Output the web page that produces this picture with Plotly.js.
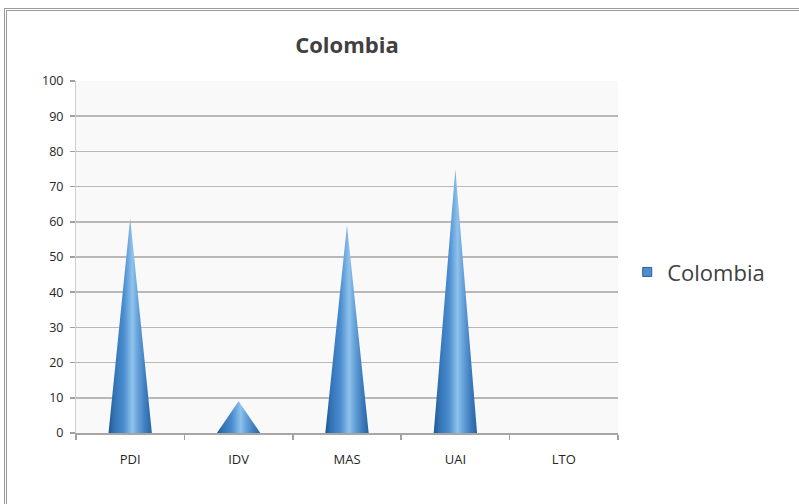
<!DOCTYPE html>
<html>
<head>
<meta charset="utf-8">
<script src="https://cdn.plot.ly/plotly-3.0.1.min.js"></script>
<style>
  html, body { margin: 0; padding: 0; background: #ffffff; }
  #wrap { position: relative; width: 799px; height: 504px; overflow: hidden; }
  #chart { position: absolute; left: 0; top: 0; width: 799px; height: 504px; }
  #frame { position: absolute; left: 4px; top: 8px; width: 820px; height: 520px;
           border-left: 3px double #9a9a9a; border-top: 3px double #9a9a9a; pointer-events: none; }
</style>
</head>
<body>
<div id="wrap">
  <div id="chart"></div>
  <div id="frame"></div>
</div>
<script>
// ---- data ----
const categories = ["PDI", "IDV", "MAS", "UAI", "LTO"];
const seriesName = "Colombia";
const values = [61, 9, 59, 75, 0];
const yTickValues = [0, 10, 20, 30, 40, 50, 60, 70, 80, 90, 100];

// ---- cone traces (triangles with horizontal gradient) ----
const halfWidth = 0.2;
const coneScale = [
  [0.00, '#1f5590'],
  [0.12, '#3272b4'],
  [0.35, '#4a8dcf'],
  [0.55, '#8fc2ec'],
  [0.66, '#6aa6dc'],
  [0.85, '#3d7cbe'],
  [1.00, '#2a639f']
];
const traces = [];
categories.forEach((c, i) => {
  const v = values[i];
  if (v <= 0) return;
  traces.push({
    type: 'scatter',
    mode: 'lines',
    x: [i - halfWidth, i, i + halfWidth, i - halfWidth],
    y: [0, v, 0, 0],
    fill: 'toself',
    fillgradient: { type: 'horizontal', colorscale: coneScale },
    line: { width: 0, color: 'rgba(0,0,0,0)' },
    hoverinfo: 'skip',
    showlegend: false,
    xaxis: 'x', yaxis: 'y'
  });
});
// legend entry
traces.push({
  type: 'scatter', mode: 'markers', name: seriesName,
  x: [null], y: [null],
  marker: { symbol: 'square', size: 9, color: '#4a8fd0', line: { color: '#2a5f98', width: 1 } },
  showlegend: true, xaxis: 'x', yaxis: 'y'
});
// label axis carrier
traces.push({
  type: 'scatter', mode: 'markers', x: categories.map((c, i) => i), y: categories.map(() => null),
  xaxis: 'x2', yaxis: 'y', showlegend: false, hoverinfo: 'skip', marker: { opacity: 0 }
});

const boundaries = [];
for (let i = 0; i <= categories.length; i++) boundaries.push(i - 0.5);

const layout = {
  width: 799, height: 504,
  margin: { l: 76, r: 181, t: 81, b: 71, pad: 0 },
  paper_bgcolor: '#ffffff',
  plot_bgcolor: '#f9f9f9',
  font: { family: 'Open Sans, sans-serif', color: '#262626' },
  title: {
    text: '<b>Colombia</b>',
    font: { family: 'Open Sans, sans-serif', size: 22, color: '#404040' },
    x: 0.5, xref: 'paper', xanchor: 'center',
    y: 1 - 45 / 504, yref: 'container', yanchor: 'middle'
  },
  xaxis: {
    type: 'linear', range: [-0.5, categories.length - 0.5],
    tickmode: 'array', tickvals: boundaries, showticklabels: false,
    ticks: 'outside', ticklen: 5, tickwidth: 1.5, tickcolor: '#a0a0a0',
    showgrid: false, zeroline: false,
    showline: true, linecolor: '#a6a6a6', linewidth: 2,
    fixedrange: true
  },
  xaxis2: {
    overlaying: 'x', side: 'bottom', anchor: 'y',
    type: 'linear', range: [-0.5, categories.length - 0.5],
    tickmode: 'array', tickvals: categories.map((c, i) => i), ticktext: categories,
    ticks: 'outside', ticklen: 14, tickcolor: 'rgba(0,0,0,0)',
    tickfont: { size: 13, color: '#262626' },
    showgrid: false, zeroline: false, showline: false,
    fixedrange: true
  },
  yaxis: {
    range: [0, 100], tickmode: 'array', tickvals: yTickValues,
    ticks: 'outside', ticklen: 5, tickwidth: 1.5, tickcolor: '#a0a0a0',
    ticklabelstandoff: 4,
    tickfont: { size: 12.5, color: '#262626' },
    showgrid: true, gridcolor: '#b8b8b8', gridwidth: 1.5,
    zeroline: false,
    showline: true, linecolor: '#cfcfcf', linewidth: 1,
    fixedrange: true
  },
  showlegend: true,
  legend: {
    x: 1.017, xanchor: 'left', y: 0.457, yanchor: 'middle',
    font: { family: 'Open Sans, sans-serif', size: 22, color: '#404040' },
    bgcolor: 'rgba(0,0,0,0)', itemwidth: 30
  }
};

Plotly.newPlot('chart', traces, layout, { staticPlot: true, displayModeBar: false });
</script>
</body>
</html>
